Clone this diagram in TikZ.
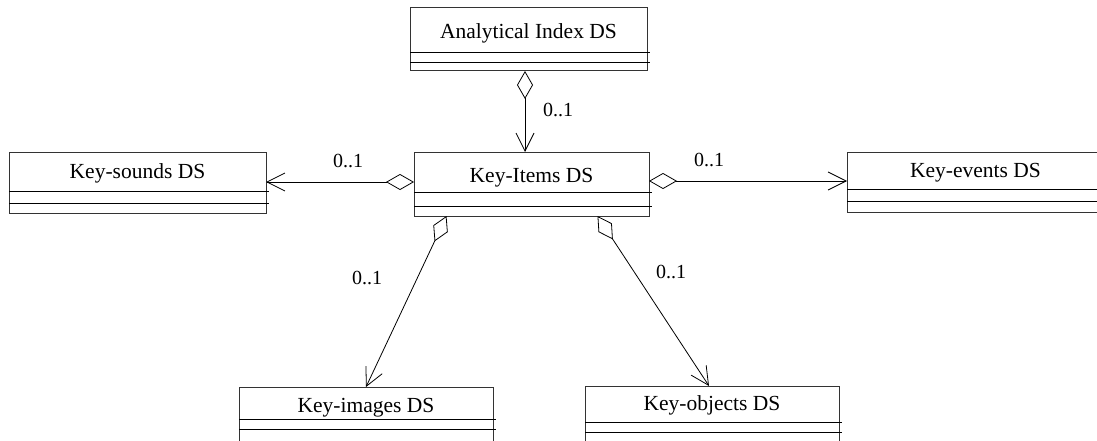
\documentclass[tikz,border=0pt]{standalone}
\usepackage{fontspec}
\setmainfont{Liberation Serif}
\usetikzlibrary{arrows.meta,calc}
\tikzset{
  x=1pt, y=-1pt,
  classbox/.style={draw=black!80, line width=1pt, rectangle, inner sep=0pt, outer sep=0pt, anchor=north west},
  classname/.style={anchor=base, inner sep=0pt, font=\fontsize{21.5}{24}\selectfont},
  compline/.style={draw=black, line width=0.9pt},
  mult/.style={inner sep=0pt, font=\fontsize{20}{22}\selectfont},
  aggr/.style={draw=black, line width=0.8pt,
    arrows={Diamond[open, length=28pt, width=16pt, line width=0.8pt]-Straight Barb[length=18pt, width=18pt, line width=0.8pt]}}
}
% \umlcls{name}{L}{R}{T}{line1}{line2}{B}{text}{baseline}{textx}
\newcommand{\umlcls}[9]{%
  \node[classbox, minimum width=#3pt-#2pt, minimum height=#7pt-#4pt] (#1) at (#2,#4) {};
  \draw[compline] (#2,#5) -- (#3+3,#5);
  \draw[compline] (#2,#6) -- (#3+3,#6);
  \node[classname] (#1-t) at ({(#2+#3)/2},#9) {#8};
}
\begin{document}
\begin{tikzpicture}
\clip (0,0) rectangle (1097,441);
\fill[white] (0,0) rectangle (1097,441);
\umlcls{ai}{410}{647}{8}{52}{62}{71}{Analytical Index DS}{39}
\umlcls{ks}{9}{266}{152}{191}{203}{213}{Key-sounds DS}{178}
\umlcls{ki}{414}{649}{152}{192}{206}{216}{Key-Items DS}{182}
\umlcls{ke}{847}{1104}{152}{189}{201}{212}{Key-events DS}{177}
\umlcls{kim}{239}{493}{387}{419}{429}{460}{Key-images DS}{412}
\umlcls{kob}{585}{839}{386}{422}{432}{460}{Key-objects DS}{410}

\draw[aggr] (525,0 |- ai.south) -- (525,0 |- ki.north);
\draw[aggr] (ki.west |- 0,182) -- (ks.east |- 0,182);
\draw[aggr] (ki.east |- 0,181) -- (ke.west |- 0,181);
\draw[aggr] (446.5,0 |- ki.south) -- (366,0 |- kim.north);
\draw[aggr] (597.5,0 |- ki.south) -- (709,0 |- kob.north);

\node[mult] (m1) at (558,110) {0..1};
\node[mult] (m2) at (348,161) {0..1};
\node[mult] (m3) at (709,160) {0..1};
\node[mult] (m4) at (367,278) {0..1};
\node[mult] (m5) at (671,272) {0..1};
\end{tikzpicture}
\end{document}
